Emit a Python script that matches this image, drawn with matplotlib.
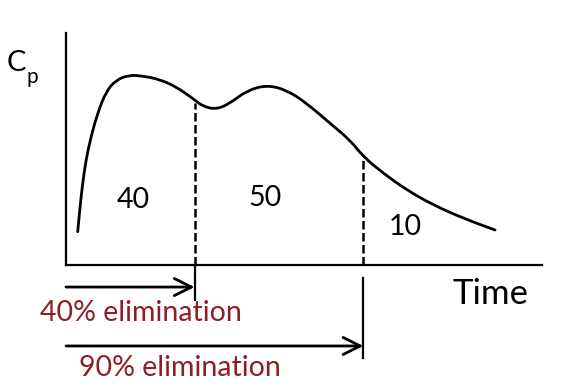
import numpy as np
import matplotlib
matplotlib.use("Agg")
import matplotlib.pyplot as plt
from matplotlib.path import Path
from matplotlib.patches import PathPatch

plt.rcParams.update({"font.family": ["Lato", "DejaVu Sans"], "font.size": 20.5})

# plasma concentration curve (arbitrary units)
time = [0.246, 0.294, 0.351, 0.420, 0.525, 0.666, 0.840, 1.050, 1.330, 1.611,
        1.960, 2.311, 2.662, 2.884, 3.166, 3.445, 3.796, 4.216, 4.636, 5.057,
        5.546, 5.966, 6.246, 6.666, 7.158, 7.716, 8.347, 9.013]
cp = [1.435, 2.513, 3.534, 4.526, 5.530, 6.552, 7.470, 7.974, 8.190, 8.147,
      8.004, 7.685, 7.185, 6.823, 6.711, 6.970, 7.513, 7.759, 7.543, 6.970,
      6.108, 5.388, 4.668, 3.953, 3.233, 2.586, 2.013, 1.509]

# split times (40% and 90% eliminated) and area share of each segment
split_t = [2.70, 6.246]
split_cp = [7.0, 4.61]
area_labels = ["40", "50", "10"]
area_t = [1.42, 4.18, 7.12]
area_c = [2.8, 2.88, 1.64]
elim_labels = ["40% elimination", "90% elimination"]

red = "#8c1f24"
fig = plt.figure(figsize=(5.7, 3.92), dpi=100)
ax = fig.add_axes([66/570, (392-265)/392, 476/570, 232/392])
ax.set_xlim(0, 10); ax.set_ylim(0, 10)
for s in ["top", "right"]:
    ax.spines[s].set_visible(False)
for s in ["left", "bottom"]:
    ax.spines[s].set_linewidth(1.6)
ax.set_xticks([]); ax.set_yticks([])

# smooth the read points with quadratic beziers (points act as control points)
pts = np.column_stack([time, cp])
verts = [pts[0]]
codes = [Path.MOVETO]
for i in range(1, len(pts) - 1):
    verts += [pts[i], (pts[i] + pts[i + 1]) / 2]
    codes += [Path.CURVE3, Path.CURVE3]
verts.append(pts[-1]); codes.append(Path.LINETO)
ax.add_patch(PathPatch(Path(verts, codes), fill=False, ec="black", lw=2.0,
                       capstyle="round", joinstyle="round"))

for t, c in zip(split_t, split_cp):
    ax.plot([t, t], [0, c], color="black", lw=1.8, dashes=(3.4, 1.4))
for lab, t, c in zip(area_labels, area_t, area_c):
    ax.text(t, c, lab, ha="center", va="center")

# arrows below the time axis
arrow_y = [-0.95, -3.49]
stop_lo = [-1.51, -4.0]
stop_hi = [-0.09, -0.56]
label_x = [-0.546, 0.273]
label_y = [-2.07, -4.44]
for t, ay, lo, hi, lab, lx, ly in zip(split_t, arrow_y, stop_lo, stop_hi,
                                      elim_labels, label_x, label_y):
    ax.annotate("", xy=(t, ay), xytext=(0, ay), annotation_clip=False,
                arrowprops=dict(arrowstyle="->,head_length=0.6,head_width=0.3",
                                color="black", lw=2.0, shrinkA=0, shrinkB=0))
    ax.plot([t, t], [lo, hi], color="black", lw=1.6, clip_on=False)
    ax.text(lx, ly, lab, color=red, ha="left", va="center", clip_on=False)

ax.text(8.11, -1.25, "Time", ha="left", va="center", fontsize=25, clip_on=False)
ax.text(-1.24, 8.72, "C", ha="left", va="center", fontsize=21, clip_on=False)
ax.text(-0.82, 8.1, "p", ha="left", va="center", fontsize=15, clip_on=False)

fig.savefig("out.png", dpi=100)
